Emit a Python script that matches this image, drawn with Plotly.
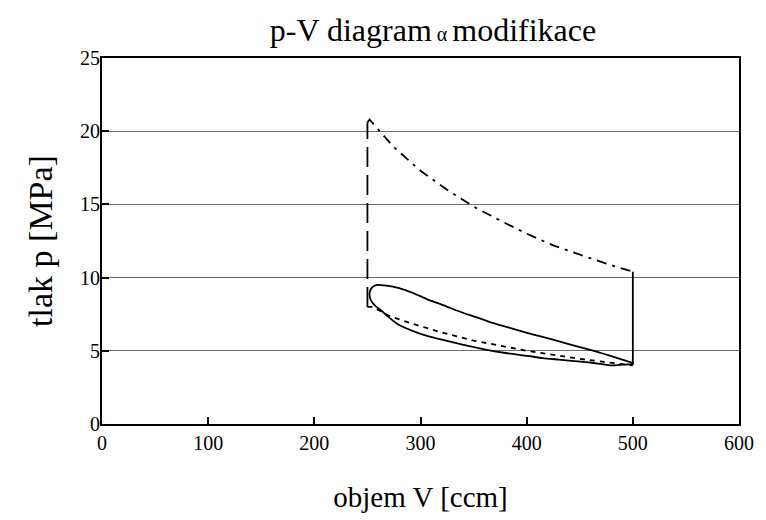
import plotly.graph_objects as go

# Real cycle loop (V [ccm], p [MPa])
loop_V = [252, 254, 259, 268, 279, 293, 307, 322, 336, 350, 364, 380, 401, 415, 429, 450, 470, 490, 500,
          500, 490, 480, 470, 460, 445, 430, 415, 401, 380, 360, 345, 330, 318, 307, 293, 279, 270, 263, 257, 253, 252]
loop_p = [8.9, 9.3, 9.5, 9.45, 9.3, 8.95, 8.5, 8.1, 7.7, 7.35, 7.0, 6.65, 6.2, 5.95, 5.67, 5.25, 4.85, 4.4, 4.15,
          4.1, 4.05, 4.0, 4.1, 4.2, 4.3, 4.4, 4.5, 4.65, 4.85, 5.1, 5.33, 5.6, 5.8, 6.0, 6.35, 6.8, 7.3, 7.75, 8.1, 8.5, 8.9]

# Ideal cycle: hot isotherm (top), cold isotherm (bottom), isochores
hot_V = [250, 252, 275, 300, 325, 350, 375, 400, 425, 450, 475, 500]
hot_p = [20.6, 20.8, 18.9, 17.3, 16.0, 14.85, 13.9, 13.0, 12.2, 11.55, 10.95, 10.4]
cold_V = [250, 255, 270, 290, 320, 350, 400, 450, 500]
cold_p = [8.0, 8.0, 7.4, 6.9, 6.25, 5.7, 5.0, 4.45, 4.0]
iso_left_V = [250, 250]
iso_left_p = [8.0, 20.6]
iso_right_V = [500, 500]
iso_right_p = [10.4, 4.05]

x_ticks = [0, 100, 200, 300, 400, 500, 600]
y_ticks = [0, 5, 10, 15, 20, 25]

fig = go.Figure()
line_w = 1.8
fig.add_trace(go.Scatter(x=hot_V, y=hot_p, mode="lines",
                         line=dict(color="black", width=line_w, dash="10px,6px,3px,6px")))
fig.add_trace(go.Scatter(x=iso_left_V, y=iso_left_p, mode="lines",
                         line=dict(color="black", width=line_w, dash="20px,8px")))
fig.add_trace(go.Scatter(x=iso_right_V, y=iso_right_p, mode="lines",
                         line=dict(color="black", width=line_w)))
fig.add_trace(go.Scatter(x=cold_V, y=cold_p, mode="lines",
                         line=dict(color="black", width=line_w, dash="5px,5px")))
fig.add_trace(go.Scatter(x=loop_V, y=loop_p, mode="lines",
                         line=dict(color="black", width=line_w, shape="spline", smoothing=0.6)))

font_family = "Liberation Serif"
fig.update_layout(
    width=766, height=520,
    margin=dict(l=102, r=24, t=58, b=95),
    paper_bgcolor="white", plot_bgcolor="white",
    showlegend=False,
    font=dict(family=font_family, color="black", size=20),
    title=dict(text="p-V diagram<span style='font-size:20px'> α </span>modifikace",
               x=433 / 766, xref="container", xanchor="center", y=1 - 30 / 520, yanchor="middle",
               font=dict(family=font_family, size=32, color="black")),
)
fig.update_xaxes(
    range=[0, 600], tickvals=x_ticks, ticktext=[str(v) for v in x_ticks],
    showgrid=False, zeroline=False,
    showline=True, linecolor="black", linewidth=2, mirror=True,
    ticks="inside", ticklen=7, tickwidth=1.5, tickcolor="black",
    tickfont=dict(family=font_family, size=20),
    title=dict(text="objem V [ccm]", font=dict(family=font_family, size=29), standoff=34),
)
fig.update_yaxes(
    range=[0, 25], tickvals=y_ticks, ticktext=[str(v) for v in y_ticks],
    showgrid=True, gridcolor="#6e6e6e", gridwidth=1, zeroline=False,
    showline=True, linecolor="black", linewidth=2, mirror=True,
    ticks="inside", ticklen=7, tickwidth=1.5, tickcolor="black",
    ticklabelstandoff=-4,
    tickfont=dict(family=font_family, size=20),
    title=dict(text="tlak p [MPa]", font=dict(family=font_family, size=34), standoff=17),
)

fig.write_html("out.html")
